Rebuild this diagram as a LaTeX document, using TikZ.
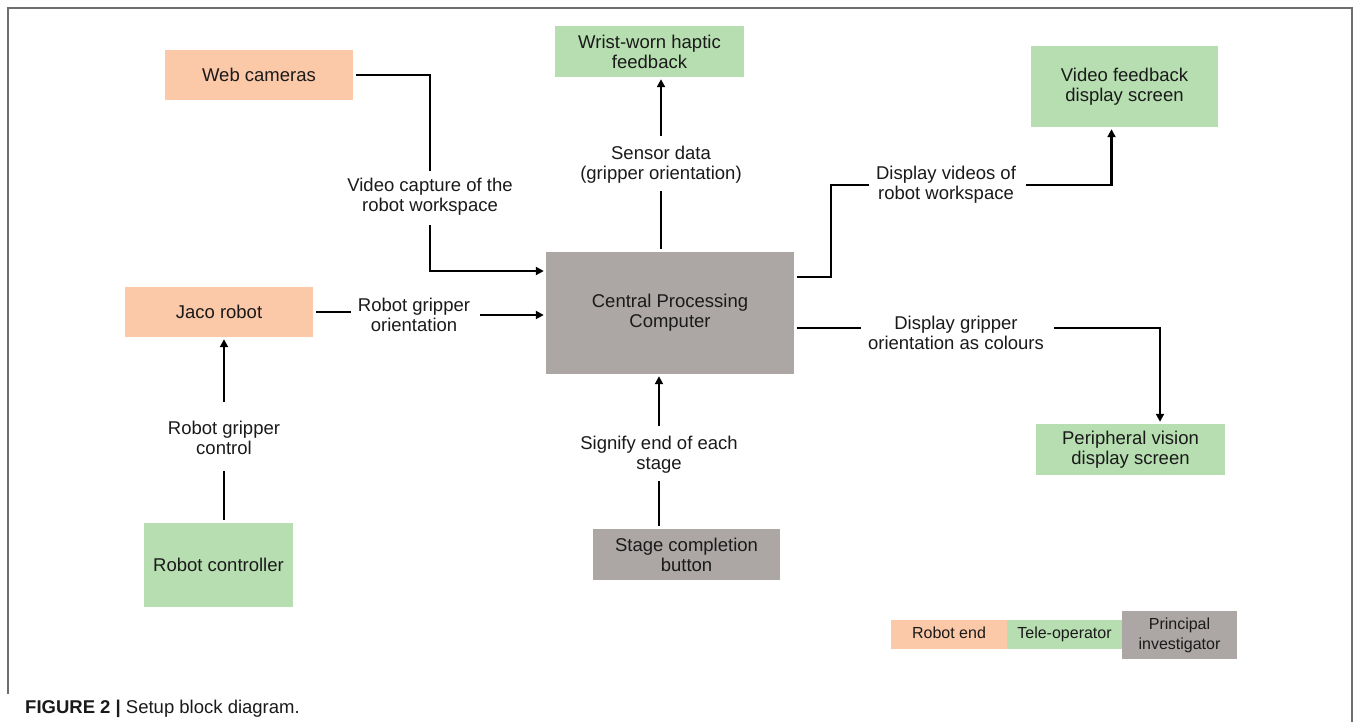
\documentclass[tikz,border=0pt]{standalone}
\usepackage{fontspec}
\setmainfont{Liberation Sans}
\usetikzlibrary{arrows.meta,calc}
\definecolor{peach}{HTML}{FBC8A8}
\definecolor{mint}{HTML}{B7DEB1}
\definecolor{stone}{HTML}{ACA7A5}
\definecolor{txt}{HTML}{1A1A1A}
\definecolor{framec}{HTML}{6E6E6E}
\begin{document}
\begin{tikzpicture}[x=1pt,y=-1pt,
  base/.style={font=\fontsize{18.5}{20}\selectfont, text=txt, align=center},
  blk/.style={base, inner sep=2pt},
  orangebox/.style={blk, fill=peach},
  greenbox/.style={blk, fill=mint},
  graybox/.style={blk, fill=stone},
  lab/.style={base, inner sep=7pt},
  leg/.style={font=\fontsize{16}{20}\selectfont, text=txt, align=center, inner sep=2pt, minimum width=116pt},
  legone/.style={leg, text height=11.5pt, text depth=3.5pt},
  conn/.style={line width=2.7pt, line join=miter, shorten <=3pt},
  arr/.style={conn, -{Triangle[length=8pt,width=8pt]}, shorten >=2pt}
]
\useasboundingbox (0,0) rectangle (1354,722);
\fill[white] (0,0) rectangle (1354,722);
\draw[framec, line width=1.5pt] (8,694) -- (8,8) -- (1352,8) -- (1352,722);

% blocks
\node[orangebox, minimum width=188pt, minimum height=50pt] (web) at (259,75) {Web cameras};
\node[greenbox, minimum width=189pt, minimum height=51pt] (wrist) at (649.5,51.5) {Wrist-worn haptic\\feedback};
\node[greenbox, minimum width=187pt, minimum height=81pt] (vfd) at (1124.5,86.5) {Video feedback\\display screen};
\node[orangebox, minimum width=188pt, minimum height=50pt] (jaco) at (219,312) {Jaco robot};
\node[graybox, minimum width=248pt, minimum height=122pt] (cpu) at (670,313) {Central Processing\\Computer};
\node[greenbox, minimum width=189pt, minimum height=51pt] (periph) at (1130.5,449.5) {Peripheral vision\\display screen};
\node[greenbox, minimum width=149pt, minimum height=84pt] (ctrl) at (218.5,565) {Robot controller};
\node[graybox, minimum width=187pt, minimum height=51pt] (stage) at (686.5,554.5) {Stage completion\\button};

% connector labels
\node[lab] (lvc) at (430,196.5) {Video capture of the\\robot workspace};
\node[lab] (lrgo) at (414,315) {Robot gripper\\orientation};
\node[lab] (lsd) at (661,165) {Sensor data\\(gripper orientation)};
\node[lab] (ldv) at (946,185) {Display videos of\\robot workspace};
\node[lab] (ldg) at (956,333) {Display gripper\\orientation as colours};
\node[lab, outer sep=9pt] (lrgc) at (224,438) {Robot gripper\\control};
\node[lab] (lse) at (659,455) {Signify end of each\\stage};

% connectors
\draw[conn] (web.east) -| (lvc.north);
\draw[arr] (lvc.south) |- ([yshift=42pt]cpu.west);
\draw[conn] (jaco.east) -- (jaco.east -| lrgo.west);
\draw[arr] (lrgo.east) -- (lrgo.east -| cpu.west);
\draw[conn] (lsd.south |- cpu.north) -- (lsd.south);
\draw[arr] (lsd.north) -- (lsd.north |- wrist.south);
\draw[conn] ([yshift=36pt]cpu.east) -| ([xshift=-38pt]ldv.west) -- (ldv.west);
\draw[arr] (ldv.east) -| ([xshift=-13pt]vfd.south);
\draw[conn] ([yshift=5pt]ldg.west -| cpu.east) -- ([yshift=5pt]ldg.west);
\draw[arr] ([yshift=5pt]ldg.east) -| ([xshift=29.5pt]periph.north);
\draw[conn] (ctrl.north -| lrgc.south) -- (lrgc.south);
\draw[arr] (lrgc.north) -- (lrgc.north |- jaco.south);
\draw[conn] (stage.north -| lse.south) -- (lse.south);
\draw[arr] (lse.north) -- (lse.north |- cpu.south);

% legend
\node[legone, fill=peach, minimum height=29pt] (lgr) at (949,634.5) {Robot end};
\node[legone, fill=mint, minimum width=115pt, minimum height=29pt] (lgt) at (1064.5,634.5) {Tele-operator};
\node[leg, fill=stone, minimum width=115pt, minimum height=48pt] (lgp) at (1179.5,635) {Principal\\investigator};

% caption
\node[anchor=base west, font=\fontsize{18.5}{22}\selectfont, text=txt, inner sep=0pt] (cap) at (25,713) {\textbf{FIGURE 2 |} Setup block diagram.};
\end{tikzpicture}
\end{document}
